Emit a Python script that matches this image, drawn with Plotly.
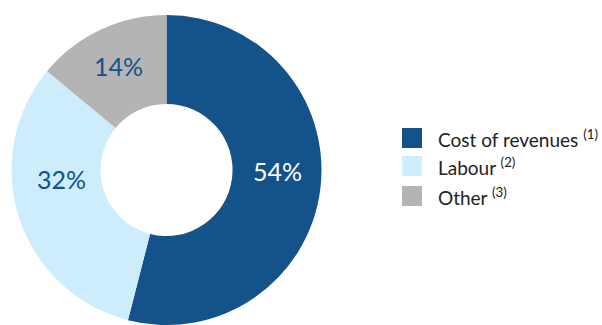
import plotly.graph_objects as go

# Cost breakdown (share of total, %)
labels = ["Cost of revenues", "Labour", "Other"]
notes = ["(1)", "(2)", "(3)"]
values = [54, 32, 14]
colors = ["#14528A", "#CDEDFC", "#B4B4B4"]
text_colors = ["#FFFFFF", "#14528A", "#14528A"]

W, H = 602, 325
FONT = "Lato, 'Open Sans', sans-serif"

fig = go.Figure(
    go.Pie(
        labels=labels,
        values=values,
        hole=0.426,
        sort=False,
        direction="clockwise",
        rotation=0,
        marker=dict(colors=colors, line=dict(width=0)),
        textinfo="none",
        domain=dict(x=[11.5 / W, 321.5 / W], y=[0, 1 - 15 / H]),
        showlegend=False,
        hoverinfo="label+percent",
    )
)

annotations = []

# Percentage labels kept level inside each slice (pixel anchor points)
label_px = [(277, 171), (61, 179), (118, 66)]
for v, tc, (px, py) in zip(values, text_colors, label_px):
    annotations.append(dict(
        xref="paper", yref="paper", x=px / W, y=1 - py / H,
        xanchor="center", yanchor="middle", showarrow=False,
        text=f"{v}%",
        font=dict(family=FONT, size=25, color=tc),
    ))

# Legend drawn as square swatches with labels beside them
shapes = []
sw = 20
x0 = 402
y_centers = [138, 166, 196]
for lab, note, col, yc in zip(labels, notes, colors, y_centers):
    shapes.append(dict(
        type="rect", xref="paper", yref="paper",
        x0=x0 / W, x1=(x0 + sw) / W,
        y0=1 - (yc + sw / 2) / H, y1=1 - (yc - sw / 2) / H,
        fillcolor=col, line=dict(width=0),
    ))
    annotations.append(dict(
        xref="paper", yref="paper", x=436 / W, y=1 - yc / H,
        xanchor="left", yanchor="middle", showarrow=False,
        text=f"{lab} <sup>{note}</sup>",
        font=dict(family=FONT, size=19, color="#222222"),
    ))

fig.update_layout(
    width=W, height=H,
    margin=dict(l=0, r=0, t=0, b=0),
    paper_bgcolor="white", plot_bgcolor="white",
    shapes=shapes, annotations=annotations,
)

fig.write_html("out.html")
